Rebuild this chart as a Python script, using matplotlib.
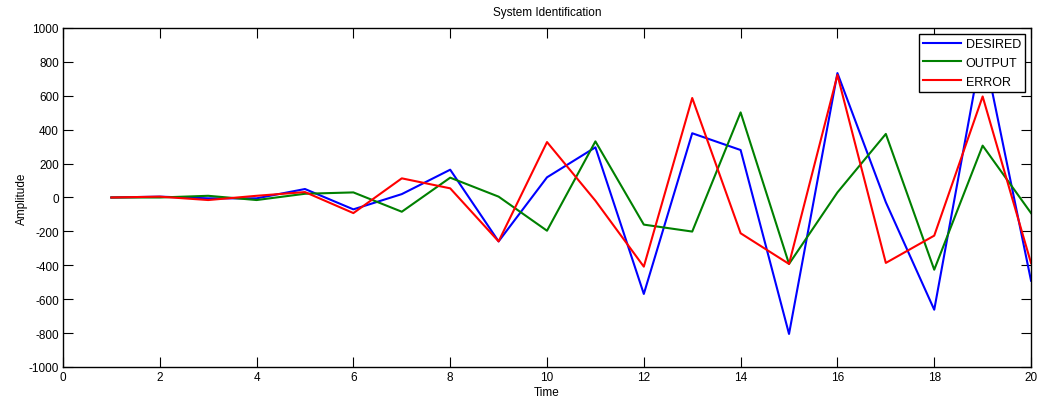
import matplotlib
matplotlib.use("Agg")
import matplotlib.pyplot as plt

time = list(range(1, 21))
desired = [0, 5, -5, -5, 50, -70, 20, 164, -259, 119, 296, -569, 379, 280, -805, 734, -28, -662, 900, -491]
output = [0, 0, 10, -15, 22, 30, -84, 117, 5, -196, 331, -160, -201, 502, -392, 30, 375, -426, 306, -92]
error = [0, 5, -15, 10, 32, -92, 113, 54, -259, 327, -19, -408, 587, -211, -392, 723, -386, -225, 596, -387]

xticks = list(range(0, 21, 2))
yticks = list(range(-1000, 1001, 200))

plt.rcParams['font.family'] = ['Liberation Sans', 'DejaVu Sans']
plt.rcParams['axes.unicode_minus'] = False

fig = plt.figure(figsize=(10.46, 4.06), dpi=100)
ax = fig.add_axes([0.0602, 0.0936, 0.9255, 0.835])

ax.plot(time, desired, color='#0000ff', lw=1.5, label='DESIRED')
ax.plot(time, output, color='#008000', lw=1.5, label='OUTPUT')
ax.plot(time, error, color='#ff0000', lw=1.5, label='ERROR')

ax.set_xlim(0, 20)
ax.set_ylim(-1000, 1000)
ax.set_xticks(xticks)
ax.set_yticks(yticks)
ax.tick_params(direction='in', top=True, right=True, length=7, width=0.8,
               labelsize=8.5, pad=3)
for s in ax.spines.values():
    s.set_linewidth(1.0)

ax.set_title('System Identification', fontsize=8.5, pad=9)
ax.set_xlabel('Time', fontsize=8.5, labelpad=2)
ax.set_ylabel('Amplitude', fontsize=8.5, labelpad=0)

leg = ax.legend(loc='upper right', fontsize=9, fancybox=False, framealpha=1,
                edgecolor='black', borderaxespad=0.45, handlelength=3.0,
                labelspacing=0.55, borderpad=0.35, handletextpad=0.4)
leg.get_frame().set_linewidth(1.0)

fig.savefig('out.png', dpi=100)
